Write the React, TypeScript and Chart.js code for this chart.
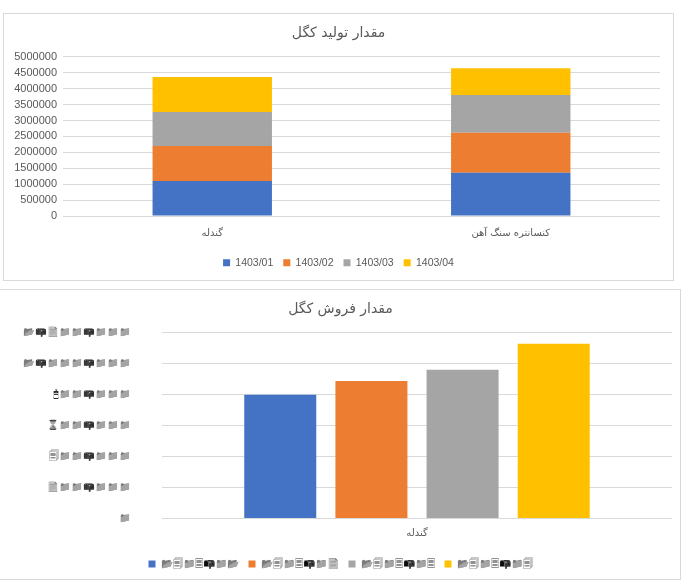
import React, { useEffect, useRef } from "react";
import { Chart, registerables } from "chart.js";

Chart.register(...registerables);

// ---------- Data ----------
const productionTitle = "مقدار تولید کگل";
const productionCategories = ["گندله", "کنسانتره سنگ آهن"];
const periods = ["1403/01", "1403/02", "1403/03", "1403/04"];
const production1403_01 = [1100000, 1360000];
const production1403_02 = [1097000, 1255000];
const production1403_03 = [1067000, 1182000];
const production1403_04 = [1098000, 847000];
const productionMax = 5000000;
const productionStep = 500000;

const salesTitle = "مقدار فروش کگل";
const salesCategories = ["گندله"];
const sales1403_01 = [800000];
const sales1403_02 = [889000];
const sales1403_03 = [961000];
const sales1403_04 = [1130000];
const salesMax = 1200000;
const salesStep = 200000;

const seriesColors = ["#4472C4", "#ED7D31", "#A5A5A5", "#FFC000"];

// The sales chart's numbers are shown in a Wingdings-style symbol font.
const wingdingsMap: Record<string, string> = {
  "0": "\u{1F4C1}",
  "1": "\u{1F4C2}",
  "2": "\u{1F4C4}",
  "3": "\u{1F5CF}",
  "4": "\u{1F5D0}",
  "5": "\u{1F5C4}",
  "6": "\u{231B}",
  "7": "\u{1F5AE}",
  "8": "\u{1F5B0}",
  "9": "\u{1F5B2}",
  ",": "\u{1F4EA}",
  "/": "\u{1F4ED}",
};
const toWingdings = (s: string) =>
  Array.from(s)
    .map((c) => wingdingsMap[c] ?? c)
    .join("");
const withCommas = (n: number) =>
  String(n).replace(/\B(?=(\d{3})+(?!\d))/g, ",");

const textColor = "#595959";
const gridColor = "#D9D9D9";
const latinFont = "'Liberation Sans', Arial, sans-serif";
const arabicFont = "'DejaVu Sans', 'Noto Sans', sans-serif";

// An empty right-hand axis that only reserves space on the right of the plot.
const spacerAxis = (width: number) => ({
  position: "right" as const,
  display: true,
  grid: { display: false, drawTicks: false },
  border: { display: false },
  ticks: { display: false },
  afterFit: (s: any) => {
    s.width = width;
  },
});

function ProductionChart() {
  const ref = useRef<HTMLCanvasElement>(null);
  useEffect(() => {
    if (!ref.current) return;
    const series = [production1403_01, production1403_02, production1403_03, production1403_04];
    const chart = new Chart(ref.current, {
      type: "bar",
      data: {
        labels: productionCategories,
        datasets: series.map((d, i) => ({
          label: periods[i],
          data: d,
          backgroundColor: seriesColors[i],
          borderWidth: 0,
          barPercentage: 0.4,
          categoryPercentage: 1,
        })),
      },
      options: {
        animation: false,
        responsive: false,
        maintainAspectRatio: false,
        layout: { padding: { left: 0, right: 0, top: 0, bottom: 3 } },
        plugins: {
          title: {
            display: true,
            text: productionTitle,
            color: textColor,
            font: { family: arabicFont, size: 14, weight: "normal" },
            padding: { top: 12, bottom: 15 },
          },
          legend: {
            position: "bottom",
            labels: {
              boxWidth: 7,
              boxHeight: 7,
              padding: 10,
              color: textColor,
              font: { family: latinFont, size: 10.5 },
            },
          },
          tooltip: { enabled: false },
        },
        scales: {
          x: {
            stacked: true,
            grid: { display: false },
            border: { display: false },
            ticks: {
              color: textColor,
              font: { family: arabicFont, size: 10 },
              padding: 3,
              maxRotation: 0,
            },
            afterFit: (s: any) => {
              s.height = 31.5;
            },
          },
          y: {
            stacked: true,
            min: 0,
            max: productionMax,
            ticks: {
              stepSize: productionStep,
              autoSkip: false,
              color: textColor,
              font: { family: latinFont, size: 11 },
              padding: 6,
              callback: (v: any) => String(v),
            },
            grid: { color: gridColor, drawTicks: false },
            border: { display: false },
            afterFit: (s: any) => {
              s.width = 60;
            },
          },
          spacer: spacerAxis(14),
        },
      },
    });
    return () => chart.destroy();
  }, []);
  return <canvas ref={ref} width={671} height={268} style={{ width: 671, height: 268, display: "block" }} />;
}

const symbolRe = /[\u{1F000}-\u{1FFFF}\u231B]/u;

function SalesChart() {
  const ref = useRef<HTMLCanvasElement>(null);
  useEffect(() => {
    if (!ref.current) return;
    // Render the symbol-font glyphs in grey, as the symbol font does.
    const ctx = ref.current.getContext("2d") as CanvasRenderingContext2D;
    const origFill = ctx.fillText.bind(ctx);
    (ctx as any).fillText = (t: string, x: number, y: number, w?: number) => {
      if (symbolRe.test(String(t))) {
        ctx.save();
        ctx.filter = "grayscale(1) brightness(0.7) contrast(1.3)";
        if (w === undefined) origFill(t, x, y);
        else origFill(t, x, y, w);
        ctx.restore();
      } else if (w === undefined) origFill(t, x, y);
      else origFill(t, x, y, w);
    };
    const series = [sales1403_01, sales1403_02, sales1403_03, sales1403_04];
    const chart = new Chart(ref.current, {
      type: "bar",
      data: {
        labels: salesCategories,
        datasets: series.map((d, i) => ({
          label: toWingdings(periods[i]),
          data: d,
          backgroundColor: seriesColors[i],
          borderWidth: 0,
          barPercentage: 0.79,
          categoryPercentage: 0.715,
        })),
      },
      options: {
        animation: false,
        responsive: false,
        maintainAspectRatio: false,
        layout: { padding: { left: 0, right: 0, top: 0, bottom: 0 } },
        plugins: {
          title: {
            display: true,
            text: salesTitle,
            color: textColor,
            font: { family: arabicFont, size: 14, weight: "normal" },
            padding: { top: 12, bottom: 15 },
          },
          legend: {
            position: "bottom",
            labels: {
              boxWidth: 7,
              boxHeight: 7,
              padding: 10,
              color: textColor,
              font: { family: arabicFont, size: 10 },
            },
          },
          tooltip: { enabled: false },
        },
        scales: {
          x: {
            grid: { display: false },
            border: { display: false },
            ticks: {
              color: textColor,
              font: { family: arabicFont, size: 10 },
              padding: 1,
              maxRotation: 0,
            },
            afterFit: (s: any) => {
              s.height = 30.5;
            },
          },
          y: {
            min: 0,
            max: salesMax,
            ticks: {
              stepSize: salesStep,
              autoSkip: false,
              color: textColor,
              font: { family: arabicFont, size: 9.5 },
              padding: 31,
              callback: (v: any) => toWingdings(withCommas(Number(v))),
            },
            grid: { color: gridColor, drawTicks: false },
            border: { display: false },
            afterFit: (s: any) => {
              s.width = 162;
            },
          },
          spacer: spacerAxis(9),
        },
      },
    });
    return () => {
      chart.destroy();
      (ctx as any).fillText = origFill;
    };
  }, []);
  return <canvas ref={ref} width={681} height={290} style={{ width: 681, height: 290, display: "block" }} />;
}

export default function App() {
  return (
    <div
      style={{
        position: "fixed",
        left: 0,
        top: 0,
        width: 686,
        height: 584,
        background: "#ffffff",
        overflow: "hidden",
      }}
    >
      <div
        style={{
          position: "absolute",
          left: 3,
          top: 13,
          width: 671,
          height: 268,
          border: "1px solid #D9D9D9",
          boxSizing: "border-box",
        }}
      >
        <div style={{ position: "absolute", left: -1, top: -1 }}>
          <ProductionChart />
        </div>
      </div>
      <div
        style={{
          position: "absolute",
          left: -1,
          top: 289,
          width: 682,
          height: 291,
          border: "1px solid #D9D9D9",
          boxSizing: "border-box",
        }}
      >
        <div style={{ position: "absolute", left: 0, top: -1 }}>
          <SalesChart />
        </div>
      </div>
    </div>
  );
}
